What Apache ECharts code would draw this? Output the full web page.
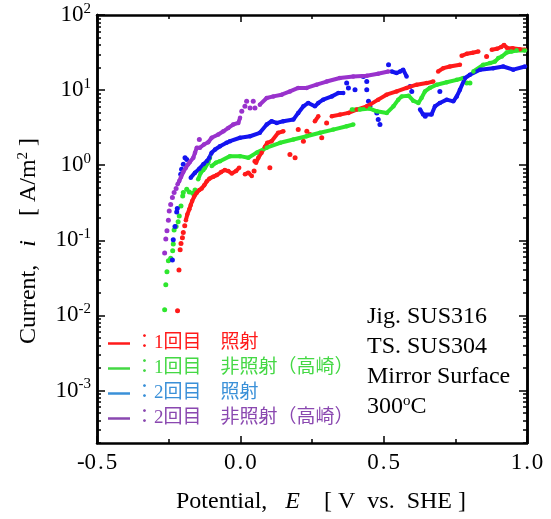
<!DOCTYPE html>
<html>
<head>
<meta charset="utf-8">
<script src="https://cdn.jsdelivr.net/npm/echarts@6.0.0/dist/echarts.min.js"></script>
<style>
html, body { margin: 0; background: #fff; }
#chart { width: 551px; height: 519px; }
</style>
</head>
<body>
<div id="chart"></div>
<script>
// potential E [V vs. SHE], current density i [A/m2]
const xMin = -0.5, xMax = 1.0;
const yMin = 2e-4, yMax = 100;
const yExponents = [-3, -2, -1, 0, 1, 2];

const seriesNames = ["：1回目　照射", "：1回目　非照射（高崎）", "：2回目　照射", "：2回目　非照射（高崎）"];
const dotColors = ["#ff1a1a", "#2ee62e", "#1414f0", "#9932cc"];
const legendColors = ["#ff1a1a", "#44d844", "#3a90d8", "#8a48b0"];

// 1st run, irradiated
const red1Runs = [
    [[-0.190,0.185],[-0.185,0.221],[-0.178,0.259],[-0.173,0.296],[-0.168,0.334],[-0.161,0.382],[-0.152,0.431],[-0.143,0.467],[-0.135,0.488],[-0.126,0.540],[-0.117,0.610],[-0.108,0.662],[-0.094,0.704],[-0.082,0.739],[-0.067,0.810],[-0.054,0.861],[-0.042,0.835],[-0.030,0.778],[-0.015,0.835],[-0.004,0.927]],
    [[0.016,0.755],[0.028,0.796],[0.040,0.717]],
    [[0.055,1.08],[0.063,1.26],[0.074,1.47],[0.086,1.76],[0.094,1.99],[0.109,2.09],[0.132,2.70],[0.150,2.83]],
    [[0.260,3.85],[0.272,4.48]],
    [[0.319,4.48],[0.348,4.72],[0.377,4.97],[0.406,5.50],[0.441,6.08],[0.452,6.40],[0.481,7.46],[0.510,8.69],[0.545,9.61],[0.580,10.7],[0.615,11.8],[0.650,12.4],[0.673,13.0]],
    [[0.690,17.7],[0.708,19.6],[0.731,20.6],[0.766,21.7]],
    [[0.772,28.6],[0.790,30.5],[0.810,31.5],[0.830,32.6]],
    [[0.877,34.4],[0.895,35.5],[0.910,37.5],[0.920,40.0],[0.930,36.5],[0.950,36.0],[0.975,35.0],[0.993,34.4]]
];
const red1Dots = [[-0.219,0.0115],[-0.214,0.0403],[-0.210,0.0748],[-0.207,0.091],[-0.202,0.108],[-0.199,0.127],[-0.194,0.156],
    [0.048,0.835],[0.051,1.13],[0.103,0.927],[0.173,1.39],[0.191,1.26],[0.202,2.98],[0.220,2.09],[0.232,2.83],[0.243,2.56],
    [0.284,2.32],[0.301,3.66],[0.859,28.0]];

// 1st run, not irradiated (Takasaki)
const green1Runs = [
    [[-0.147,0.648],[-0.138,0.796],[-0.129,0.861],[-0.123,0.927],[-0.112,1.08],[-0.106,1.26]],
    [[-0.100,0.973],[-0.085,1.08],[-0.071,1.13],[-0.036,1.32],[-0.001,1.32],[0.028,1.26],[0.057,1.47],[0.092,1.71],[0.139,1.99],[0.185,2.20],[0.231,2.43],[0.278,2.70],[0.324,2.98],[0.371,3.30],[0.394,3.48]],
    [[0.389,5.50],[0.417,5.50],[0.452,5.67],[0.476,5.22],[0.511,4.97],[0.534,6.08],[0.551,7.46],[0.563,8.25],[0.587,8.43],[0.603,7.23],[0.621,6.74],[0.632,7.85],[0.644,9.61],[0.661,10.7],[0.685,11.8],[0.720,12.7],[0.755,13.7],[0.778,14.5]],
    [[0.813,17.7],[0.847,21.7],[0.871,22.9],[0.888,24.0],[0.900,26.7],[0.912,28.0],[0.929,31.6],[0.946,32.6],[0.964,33.7],[0.993,33.7]]
];
const green1Dots = [[-0.264,0.0119],[-0.260,0.0255],[-0.256,0.0382],[-0.251,0.0535],[-0.243,0.0575],[-0.236,0.0726],[-0.234,0.0891],
    [-0.231,0.137],[-0.224,0.153],[-0.217,0.176],[-0.213,0.211],[-0.207,0.287],[-0.201,0.389],[-0.199,0.432],[-0.187,0.478],
    [-0.178,0.440],[-0.166,0.423],[-0.158,0.468],[0.790,12.4],[0.801,12.4]];

// 2nd run, irradiated
const blue2Runs = [
    [[-0.173,0.683],[-0.158,0.796],[-0.143,0.899],[-0.129,1.03],[-0.117,1.13],[-0.108,1.26],[-0.100,1.47],[-0.088,1.62],[-0.071,1.79],[-0.048,1.99],[-0.036,2.09],[-0.001,2.32],[0.034,2.43],[0.068,2.70],[0.092,3.48],[0.109,3.85],[0.127,3.66],[0.150,3.85],[0.185,4.05],[0.202,4.97],[0.220,6.08],[0.237,6.74],[0.260,6.08],[0.272,6.74],[0.289,7.46],[0.319,8.25],[0.342,9.16],[0.359,9.16]],
    [[0.528,17.7],[0.545,16.9],[0.557,17.7],[0.568,18.7],[0.580,15.2]],
    [[0.627,5.50],[0.638,4.72],[0.667,4.72],[0.679,6.08],[0.696,6.74],[0.720,7.46],[0.743,7.08],[0.755,8.25],[0.766,10.1],[0.784,14.5],[0.801,16.0],[0.836,18.7],[0.882,19.6],[0.917,20.6],[0.952,18.7],[0.993,20.6]]
];
const blue2Dots = [[-0.237,0.0546],[-0.234,0.102],[-0.228,0.153],[-0.222,0.239],[-0.220,0.265],[-0.208,0.755],[-0.205,0.880],
    [-0.199,1.03],[-0.193,1.26],[-0.187,1.19],[0.371,12.4],[0.377,10.7],[0.400,10.1],[0.429,15.2],[0.441,13.0],[0.441,10.1],
    [0.447,7.08],[0.452,6.08],[0.476,4.97],[0.481,4.05],[0.487,3.48],[0.517,21.7],[0.592,11.2],[0.598,9.61],[0.645,4.48],[0.696,9.61]];

// 2nd run, not irradiated (Takasaki)
const purple2Runs = [
    [[-0.219,0.556],[-0.213,0.615],[-0.207,0.695],[-0.199,0.810],[-0.190,0.927],[-0.182,1.03],[-0.176,1.10],[-0.164,1.26],[-0.158,1.47],[-0.152,1.71],[-0.141,1.71],[-0.127,1.89],[-0.112,2.02],[-0.100,2.32],[-0.077,2.56],[-0.059,2.83],[-0.042,3.14],[-0.025,3.48],[-0.007,3.66],[-0.001,4.27]],
    [[0.068,6.40],[0.092,7.85],[0.115,8.25],[0.144,8.69],[0.173,9.61],[0.202,10.7],[0.231,10.7],[0.266,11.8],[0.301,13.0],[0.347,14.5],[0.394,15.2],[0.441,15.5],[0.480,16.5],[0.516,17.7]]
];
const purple2Dots = [[-0.264,0.0676],[-0.260,0.104],[-0.256,0.134],[-0.251,0.185],[-0.248,0.246],[-0.243,0.299],[-0.237,0.371],
    [-0.231,0.432],[-0.224,0.488],[-0.143,2.20],[0.005,5.22],[0.016,6.08],[0.022,7.08],[0.034,5.79],[0.045,7.08],[0.051,5.79]];

const noteLines = ["Jig. SUS316", "TS. SUS304", "Mirror Surface", "300{sup|o}C"];

const serif = '"Liberation Serif", "Times New Roman", "Noto Sans CJK JP", serif';

const yMajor = yExponents.map(e => Math.pow(10, e));
const yMinor = [];
for (let e = -4; e < 2; e++) {
    for (let k = 2; k <= 9; k++) {
        const v = k * Math.pow(10, e);
        if (v >= yMin && v <= yMax) yMinor.push(v);
    }
}

function makeSeries(idx, runs, dots) {
    const name = seriesNames[idx];
    const color = dotColors[idx];
    const list = runs.map(run => ({
        name: name,
        type: "line",
        data: run,
        symbol: "circle",
        showSymbol: true,
        symbolSize: 4.5,
        lineStyle: { color: color, width: 4 },
        itemStyle: { color: color },
        emphasis: { disabled: true },
        silent: true,
    }));
    list.push({
        name: name,
        type: "scatter",
        data: dots,
        symbolSize: 5,
        itemStyle: { color: color, opacity: 1 },
        emphasis: { disabled: true },
        silent: true,
    });
    return list;
}

const axisLineStyle = { color: "#000", width: 2.5 };
const tickStyle = { color: "#000", width: 1.5 };

const xBase = {
    type: "value",
    min: xMin,
    max: xMax,
    interval: 0.5,
    splitLine: { show: false },
    axisLine: { show: true, onZero: false, lineStyle: axisLineStyle },
    axisTick: { inside: true, length: 7, lineStyle: tickStyle },
    minorTick: { show: true, splitNumber: 2, length: 4, lineStyle: tickStyle },
};

const yBase = {
    type: "log",
    logBase: 10,
    min: yMin,
    max: yMax,
    splitLine: { show: false },
    axisLine: { show: true, onZero: false, lineStyle: axisLineStyle },
};

const chart = echarts.init(document.getElementById("chart"));

const option = {
    animation: false,
    textStyle: { fontFamily: serif },
    grid: { left: 97, right: 24, top: 15, bottom: 75 },
    legend: {
        orient: "vertical",
        left: 108,
        top: 334,
        padding: 0,
        itemGap: 6,
        itemWidth: 22,
        itemHeight: 2.5,
        icon: "rect",
        selectedMode: false,
        textStyle: { fontSize: 19, fontFamily: serif },
        data: seriesNames.map((n, i) => ({
            name: n,
            itemStyle: { color: legendColors[i] },
            textStyle: { color: legendColors[i] },
        })),
    },
    xAxis: [
        {
            ...xBase,
            position: "bottom",
            name: "Potential,   {it|E}    [ V  vs.  SHE ]",
            nameLocation: "middle",
            nameGap: 47,
            nameTextStyle: {
                color: "#000", fontSize: 24, fontFamily: serif,
                padding: [0, 0, 0, 18],
                rich: { it: { fontSize: 24, fontStyle: "italic", fontFamily: serif } },
            },
            axisLabel: {
                color: "#000",
                fontSize: 23,
                margin: 8,
                formatter: v => v.toFixed(1).replace(".", "\u200A.\u200A"),
            },
        },
        {
            ...xBase,
            position: "top",
            axisLabel: { show: false },
        },
    ],
    yAxis: [
        {
            ...yBase,
            position: "left",
            name: "Current,   {it|i}    [ A/m{sup|2} ]",
            nameLocation: "middle",
            nameGap: 55,
            nameRotate: 90,
            nameTextStyle: {
                color: "#000", fontSize: 24, fontFamily: serif,
                padding: [0, 24, 0, 0],
                rich: {
                    it: { fontSize: 24, fontStyle: "italic", fontFamily: serif },
                    sup: { fontSize: 15, fontFamily: serif, padding: [0, 0, 11, 0] },
                },
            },
            axisTick: { inside: true, length: 8, lineStyle: tickStyle, customValues: yMajor },
            axisLabel: {
                customValues: yMajor,
                margin: 6,
                color: "#000",
                formatter: v => "{b|10}{s|" + Math.round(Math.log10(v)) + "}",
                rich: {
                    b: { fontSize: 23, fontFamily: serif, color: "#000" },
                    s: { fontSize: 15, fontFamily: serif, color: "#000", padding: [0, 0, 12, 0] },
                },
            },
        },
        {
            ...yBase,
            position: "left",
            axisTick: { inside: true, length: 4, lineStyle: tickStyle, customValues: yMinor },
            axisLabel: { show: false },
        },
        {
            ...yBase,
            position: "right",
            axisTick: { inside: true, length: 8, lineStyle: tickStyle, customValues: yMajor },
            axisLabel: { show: false },
        },
        {
            ...yBase,
            position: "right",
            axisTick: { inside: true, length: 4, lineStyle: tickStyle, customValues: yMinor },
            axisLabel: { show: false },
        },
    ],
    graphic: [
        {
            type: "text",
            left: 367,
            top: 302,
            style: {
                text: noteLines.join("\n"),
                fontSize: 24,
                fontFamily: serif,
                fill: "#000",
                lineHeight: 30,
                rich: {
                    sup: { fontSize: 15, fontFamily: serif, fill: "#000", padding: [0, 0, 12, 0] },
                },
            },
        },
    ],
    series: [
        ...makeSeries(0, red1Runs, red1Dots),
        ...makeSeries(1, green1Runs, green1Dots),
        ...makeSeries(2, blue2Runs, blue2Dots),
        ...makeSeries(3, purple2Runs, purple2Dots),
    ],
};

chart.setOption(option);
</script>
</body>
</html>
